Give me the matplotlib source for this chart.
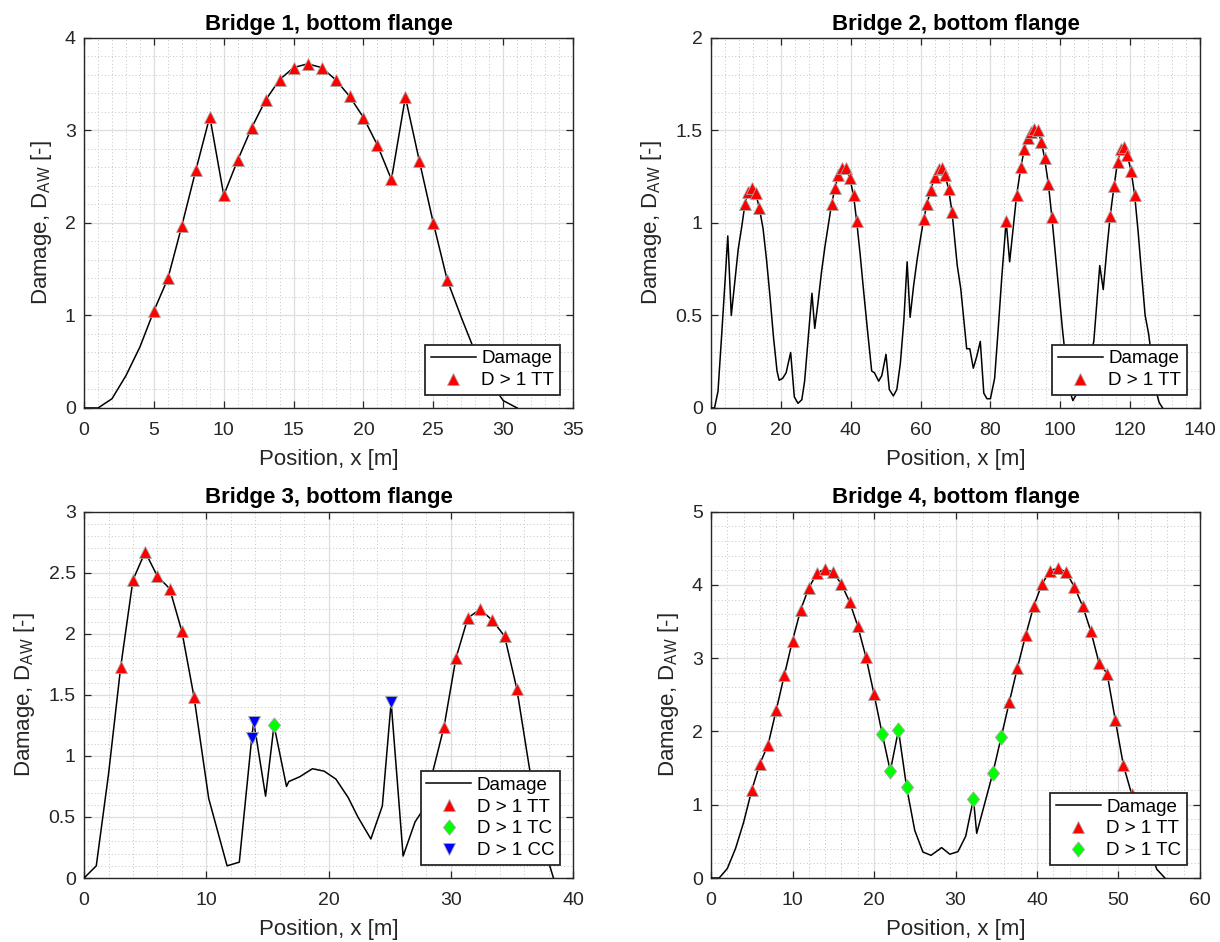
import numpy as np
import matplotlib
matplotlib.use("Agg")
import matplotlib.pyplot as plt
from matplotlib.ticker import MultipleLocator, AutoMinorLocator

plt.rcParams['font.family'] = ['Liberation Sans', 'DejaVu Sans']
plt.rcParams['mathtext.default'] = 'regular'

# damage along the bottom flange, one array pair per bridge
b1_x = [0, 1, 2, 3, 4, 5, 6, 7, 8, 9, 10, 11, 12, 13, 14, 15, 16, 17, 18, 19, 20,
        21, 22, 23, 24, 25, 26, 27, 28, 29, 30, 31]
b1_y = [0.0, 0.0, 0.10, 0.35, 0.66, 1.05, 1.40, 1.97, 2.57, 3.15, 2.30, 2.68, 3.03,
        3.33, 3.55, 3.68, 3.72, 3.68, 3.55, 3.37, 3.14, 2.84, 2.47, 3.36, 2.67, 2.00,
        1.38, 0.98, 0.60, 0.30, 0.08, 0.0]

b2_x = [0, 1, 2, 3, 4, 4.8, 5.8, 6.8, 7.8, 8.8, 9.7, 10.7, 11.8, 12.8, 13.85, 14.9,
        15.9, 16.9, 17.9, 18.9, 19.5, 20.5, 21.5, 22.8, 23.85, 24.9, 26.0, 26.8, 28.9,
        29.7, 30.7, 31.6, 32.6, 33.6, 34.5, 35.5, 36.4, 37.6, 38.6, 39.7, 40.8, 41.7,
        42.7, 43.7, 44.8, 46.0, 46.8, 48.0, 48.9, 50.1, 51.05, 52.2, 53.2, 54.2, 55.2,
        56.15, 57.0, 58.0, 59.0, 60.0, 60.9, 61.8, 62.9, 64.1, 65.2, 66.15, 67.0, 68.0,
        69.0, 70.5, 71.5, 73.2, 74.1, 75.1, 76.1, 77.1, 78.1, 79.0, 80.0, 81.2, 82.2,
        83.3, 84.5, 85.5, 86.5, 87.5, 88.7, 89.7, 90.7, 91.7, 92.6, 93.5, 94.6, 95.5,
        96.6, 97.6, 98.6, 99.6, 100.6, 101.6, 102.6, 103.6, 104.5, 105.6, 106.6, 107.6,
        108.6, 109.6, 110.4, 111.3, 112.3, 113.3, 114.3, 115.4, 116.4, 117.3, 118.3,
        119.2, 120.3, 121.3, 122.3, 123.3, 124.3, 125.3, 126.3, 127.3, 128.3, 129.3]
b2_y = [0.0, 0.0, 0.09, 0.38, 0.68, 0.93, 0.50, 0.68, 0.86, 0.98, 1.10, 1.17, 1.19,
        1.16, 1.08, 0.97, 0.80, 0.60, 0.38, 0.20, 0.15, 0.16, 0.19, 0.30, 0.06, 0.025,
        0.045, 0.145, 0.62, 0.43, 0.58, 0.73, 0.87, 0.99, 1.10, 1.19, 1.26, 1.295,
        1.295, 1.245, 1.15, 1.01, 0.83, 0.63, 0.42, 0.20, 0.19, 0.145, 0.175, 0.29,
        0.10, 0.065, 0.10, 0.24, 0.47, 0.79, 0.49, 0.66, 0.80, 0.92, 1.02, 1.10, 1.18,
        1.25, 1.29, 1.295, 1.26, 1.185, 1.06, 0.77, 0.645, 0.32, 0.32, 0.215, 0.28,
        0.36, 0.08, 0.05, 0.05, 0.16, 0.42, 0.72, 1.01, 0.79, 0.97, 1.15, 1.30, 1.40,
        1.46, 1.49, 1.51, 1.50, 1.44, 1.35, 1.21, 1.03, 0.83, 0.63, 0.43, 0.25, 0.10,
        0.04, 0.07, 0.12, 0.18, 0.22, 0.28, 0.36, 0.55, 0.77, 0.64, 0.85, 1.04, 1.20,
        1.33, 1.40, 1.41, 1.365, 1.28, 1.15, 0.95, 0.72, 0.50, 0.40, 0.25, 0.10, 0.03,
        0.0]

b3_x = [0, 1.0, 2.0, 3.0, 4.0, 5.0, 6.0, 7.0, 8.0, 9.0, 10.2, 11.7, 12.7, 13.72, 13.88,
        14.85, 15.54, 16.56, 16.75, 17.66, 18.68, 19.64, 20.6, 21.6, 22.4, 23.46, 24.4,
        25.12, 26.1, 27.08, 27.8, 28.6, 29.45, 30.42, 31.4, 32.4, 33.4, 34.4, 35.4,
        36.4, 37.4, 38.4]
b3_y = [0.0, 0.10, 0.85, 1.73, 2.44, 2.67, 2.47, 2.37, 2.02, 1.48, 0.65, 0.10, 0.13,
        1.15, 1.28, 0.67, 1.25, 0.75, 0.79, 0.83, 0.895, 0.875, 0.81, 0.66, 0.50, 0.32,
        0.59, 1.44, 0.18, 0.46, 0.57, 0.90, 1.24, 1.80, 2.13, 2.20, 2.11, 1.98, 1.55,
        0.92, 0.33, 0.0]
b3_tc = [15.54]
b3_cc = [13.72, 13.88, 25.12]

b4_x = [0, 1, 2, 3, 4, 5, 6, 7, 8, 9, 10, 11, 12, 13, 14, 15, 16, 17, 18, 19, 20, 21,
        22, 23, 24, 25, 26, 27, 28.3, 29.3, 30.3, 31.25, 32.2, 32.6, 34.6, 35.6, 36.6,
        37.6, 38.6, 39.6, 40.6, 41.6, 42.6, 43.6, 44.6, 45.6, 46.6, 47.6, 48.6, 49.6,
        50.6, 51.6, 52.6, 53.6, 54.7, 55.7]
b4_y = [0.0, 0.0, 0.13, 0.40, 0.76, 1.20, 1.56, 1.82, 2.29, 2.77, 3.24, 3.66, 3.96,
        4.16, 4.22, 4.17, 4.01, 3.77, 3.44, 3.02, 2.51, 1.97, 1.46, 2.02, 1.24, 0.65,
        0.355, 0.31, 0.415, 0.325, 0.36, 0.57, 1.08, 0.61, 1.44, 1.92, 2.40, 2.87, 3.31,
        3.71, 4.01, 4.19, 4.23, 4.17, 3.97, 3.71, 3.37, 2.94, 2.79, 2.16, 1.54, 1.15,
        0.80, 0.45, 0.12, 0.0]
b4_tc = [21, 22, 23, 24, 32.2, 34.6, 35.6]

titles = ['Bridge 1, bottom flange', 'Bridge 2, bottom flange',
          'Bridge 3, bottom flange', 'Bridge 4, bottom flange']
xlims = [(0, 35), (0, 140), (0, 40), (0, 60)]
ylims = [(0, 4), (0, 2), (0, 3), (0, 5)]
xsteps = [5, 20, 10, 10]
ysteps = [1, 0.5, 0.5, 1]

bridges = [(b1_x, b1_y, [], []), (b2_x, b2_y, [], []),
           (b3_x, b3_y, b3_tc, b3_cc), (b4_x, b4_y, b4_tc, [])]

ink = '#262626'
diamond = [(0, 1), (0.8, 0), (0, -1), (-0.8, 0), (0, 1)]
positions = [[0.0689, 0.5669, 0.4008, 0.3928], [0.5828, 0.5669, 0.4008, 0.3928],
             [0.0689, 0.0679, 0.4008, 0.3890], [0.5828, 0.0679, 0.4008, 0.3890]]

fig = plt.figure(figsize=(12.2, 9.42), dpi=100)

for k, (x, y, tc, cc) in enumerate(bridges):
    ax = fig.add_axes(positions[k])
    x = np.asarray(x, dtype=float)
    y = np.asarray(y, dtype=float)
    is_tc = np.isin(x, tc)
    is_cc = np.isin(x, cc)
    is_tt = (y > 1) & ~is_tc & ~is_cc

    ax.plot(x, y, color='k', lw=1.1, label='Damage', zorder=3)
    mk = dict(ls='none', mec='#a8a8a8', mew=0.6, zorder=4)
    ax.plot(x[is_tt], y[is_tt], marker='^', ms=8, mfc='#ff0000', label='D > 1 TT', **mk)
    if len(tc):
        ax.plot(x[is_tc], y[is_tc], marker=diamond, ms=11, mfc='#00ff00', label='D > 1 TC', **mk)
    if len(cc):
        ax.plot(x[is_cc], y[is_cc], marker='v', ms=8, mfc='#0000ff', label='D > 1 CC', **mk)

    ax.set_xlim(*xlims[k])
    ax.set_ylim(*ylims[k])
    ax.xaxis.set_major_locator(MultipleLocator(xsteps[k]))
    ax.yaxis.set_major_locator(MultipleLocator(ysteps[k]))
    ax.xaxis.set_minor_locator(AutoMinorLocator(5))
    ax.yaxis.set_minor_locator(AutoMinorLocator(5))
    ax.yaxis.set_major_formatter(plt.FuncFormatter(lambda v, p: f'{v:g}'))

    ax.grid(which='major', color='#dedede', lw=0.9, ls='-', zorder=0)
    ax.grid(which='minor', color='#c4c4c4', lw=0.7, ls=(0, (1, 2.5)), zorder=0)
    ax.set_axisbelow(True)
    ax.tick_params(which='major', direction='in', length=5, width=0.9, colors=ink,
                   top=True, right=True, labelsize=14)
    ax.tick_params(axis='x', which='major', pad=10)
    ax.tick_params(axis='y', which='major', pad=6)
    ax.tick_params(which='minor', length=0, top=True, right=True)
    for s in ax.spines.values():
        s.set_color(ink)
        s.set_linewidth(1.0)

    ax.set_title(titles[k], fontsize=16, fontweight='bold', color='k', pad=6)
    ax.set_xlabel('Position, x [m]', fontsize=16, color=ink, labelpad=7)
    ax.set_ylabel('Damage, D$_{AW}$ [-]', fontsize=16, color=ink, labelpad=8)

    leg = ax.legend(loc='lower right', fontsize=13.5, frameon=True, fancybox=False,
                    framealpha=1, edgecolor=ink, borderpad=0.3, labelspacing=0.25,
                    handlelength=2.4, handletextpad=0.3, borderaxespad=0.7)
    leg.get_frame().set_linewidth(1.3)
    leg.set_zorder(10)

fig.savefig('out.png', dpi=100, facecolor='white')
